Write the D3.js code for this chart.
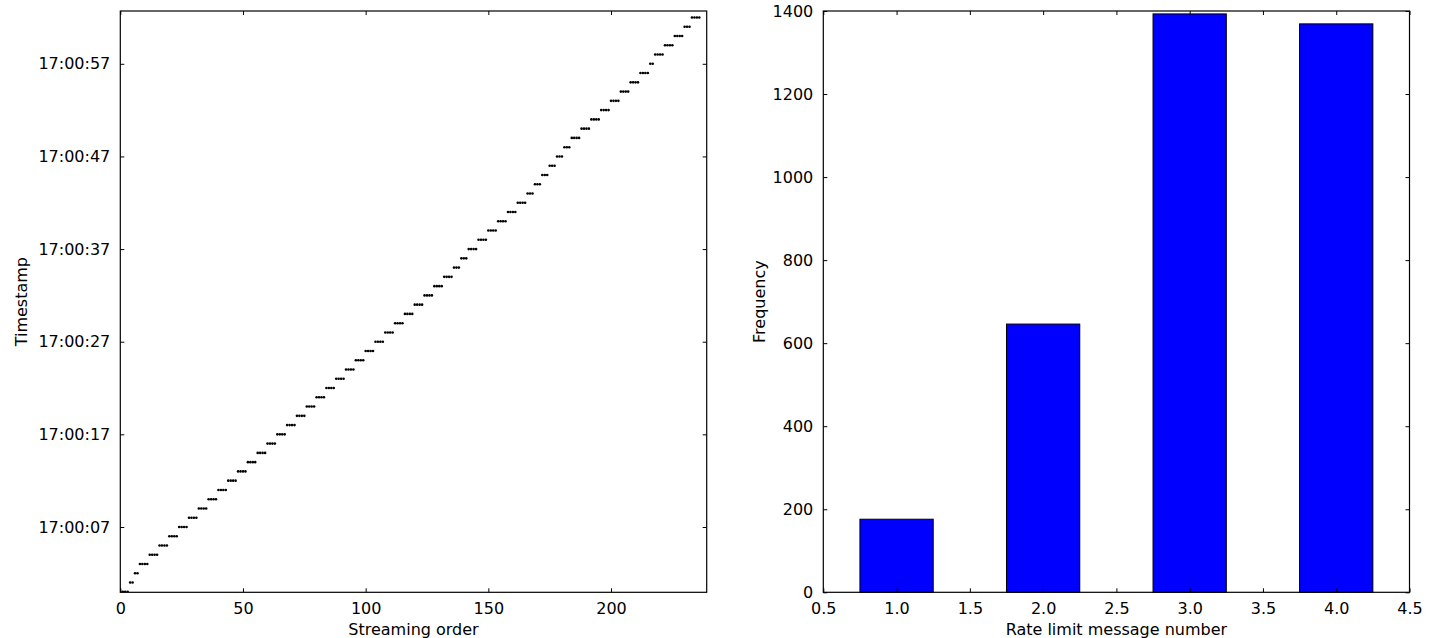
<!DOCTYPE html>
<html>
<head>
<meta charset="utf-8">
<script src="https://cdn.jsdelivr.net/npm/d3@7"></script>
<style>
  html, body { margin: 0; padding: 0; background: #fff; }
  svg { display: block; }
  text { font-family: "DejaVu Sans", sans-serif; fill: #000; }
</style>
</head>
<body>
<svg id="chart" width="1438" height="638"></svg>
<script>
// ---------- Data ----------
// Left panel: one entry per second of arrival time, and how many messages arrived in it
const secondLabels = [
  "17:00:00","17:00:01","17:00:02","17:00:03","17:00:04","17:00:05","17:00:06","17:00:07","17:00:08","17:00:09",
  "17:00:10","17:00:11","17:00:12","17:00:13","17:00:14","17:00:15","17:00:16","17:00:17","17:00:18","17:00:19",
  "17:00:20","17:00:21","17:00:22","17:00:23","17:00:24","17:00:25","17:00:26","17:00:27","17:00:28","17:00:29",
  "17:00:30","17:00:31","17:00:32","17:00:33","17:00:34","17:00:35","17:00:36","17:00:37","17:00:38","17:00:39",
  "17:00:40","17:00:41","17:00:42","17:00:43","17:00:44","17:00:45","17:00:46","17:00:47","17:00:48","17:00:49",
  "17:00:50","17:00:51","17:00:52","17:00:53","17:00:54","17:00:55","17:00:56","17:00:57","17:00:58","17:00:59",
  "17:01:00","17:01:01","17:01:02"
];
const messagesPerSecond = [
  4,2,2,4,4,4,4,4,4,4,
  4,4,4,4,4,4,4,4,4,4,
  4,4,4,4,4,4,4,4,4,4,
  4,4,4,4,4,3,3,4,4,4,
  4,4,4,3,3,3,3,3,3,4,
  4,4,4,4,4,4,4,2,4,4,
  4,3,4
];
const timeTickLabels = ["17:00:07","17:00:17","17:00:27","17:00:37","17:00:47","17:00:57"];
const orderTicks = [0, 50, 100, 150, 200];
const orderDomain = [0, 239];
const timeDomain = ["16:59:59.950", "17:01:02.700"];

// Right panel: histogram of rate limit message number
const messageNumbers = [1, 2, 3, 4];
const frequencies = [176, 646, 1393, 1369];
const barWidth = 0.5;
const numberTicks = [0.5, 1.0, 1.5, 2.0, 2.5, 3.0, 3.5, 4.0, 4.5];
const freqTicks = [0, 200, 400, 600, 800, 1000, 1200, 1400];

// ---------- Layout ----------
const svg = d3.select("#chart");
const topY = 11, bottomY = 592.3;
const L = { x0: 120.3, x1: 706.7 };
const R = { x0: 823.3, x1: 1409.5 };
const fontSize = 16;
const tickLen = 4;

const parseT = d3.timeParse("%H:%M:%S");
const parseTms = d3.timeParse("%H:%M:%S.%L");

// Build points: streaming order index vs timestamp
const points = [];
secondLabels.forEach((lab, i) => {
  for (let k = 0; k < messagesPerSecond[i]; k++) {
    points.push({ order: points.length, t: parseT(lab) });
  }
});

// ---------- Left panel ----------
const xL = d3.scaleLinear().domain(orderDomain).range([L.x0, L.x1]);
const yL = d3.scaleTime().domain(timeDomain.map(parseTms)).range([bottomY, topY]);

const gL = svg.append("g");
gL.append("defs").append("clipPath").attr("id", "clipL")
  .append("rect").attr("x", L.x0).attr("y", topY).attr("width", L.x1 - L.x0).attr("height", bottomY - topY);

gL.append("g").attr("clip-path", "url(#clipL)")
  .selectAll("circle").data(points).enter().append("circle")
  .attr("cx", d => xL(d.order))
  .attr("cy", d => yL(d.t))
  .attr("r", 1.3)
  .attr("fill", "#000");

function drawFrame(g, x0, x1) {
  g.append("rect").attr("x", x0).attr("y", topY).attr("width", x1 - x0).attr("height", bottomY - topY)
    .attr("fill", "none").attr("stroke", "#000").attr("stroke-width", 1.2);
}

// x ticks (bottom + top, inward)
gL.append("g").attr("transform", `translate(0,${bottomY})`)
  .call(d3.axisBottom(xL).tickValues(orderTicks).tickSize(-tickLen).tickPadding(10).tickFormat(d3.format("d")));
gL.append("g").attr("transform", `translate(0,${topY})`)
  .call(d3.axisTop(xL).tickValues(orderTicks).tickSize(-tickLen).tickFormat(""));

const yTickDates = timeTickLabels.map(parseT);
gL.append("g").attr("transform", `translate(${L.x0},0)`)
  .call(d3.axisLeft(yL).tickValues(yTickDates).tickSize(-tickLen).tickPadding(10)
    .tickFormat((d, i) => timeTickLabels[i]));
gL.append("g").attr("transform", `translate(${L.x1},0)`)
  .call(d3.axisRight(yL).tickValues(yTickDates).tickSize(-tickLen).tickFormat(""));

drawFrame(gL, L.x0, L.x1);

gL.append("text").attr("x", (L.x0 + L.x1) / 2).attr("y", 635)
  .attr("text-anchor", "middle").attr("font-size", fontSize).text("Streaming order");
gL.append("text").attr("transform", `translate(27,${(topY + bottomY) / 2}) rotate(-90)`)
  .attr("text-anchor", "middle").attr("font-size", fontSize).text("Timestamp");

// ---------- Right panel ----------
const xR = d3.scaleLinear().domain([0.5, 4.5]).range([R.x0, R.x1]);
const yR = d3.scaleLinear().domain([0, 1400]).range([bottomY, topY]);
const gR = svg.append("g");

gR.selectAll("rect.bar").data(messageNumbers).enter().append("rect")
  .attr("class", "bar")
  .attr("x", d => xR(d - barWidth / 2))
  .attr("width", d => xR(d + barWidth / 2) - xR(d - barWidth / 2))
  .attr("y", (d, i) => yR(frequencies[i]))
  .attr("height", (d, i) => yR(0) - yR(frequencies[i]))
  .attr("fill", "#0000ff").attr("stroke", "#000").attr("stroke-width", 1);

gR.append("g").attr("transform", `translate(0,${bottomY})`)
  .call(d3.axisBottom(xR).tickValues(numberTicks).tickSize(-tickLen).tickPadding(10).tickFormat(d3.format(".1f")));
gR.append("g").attr("transform", `translate(0,${topY})`)
  .call(d3.axisTop(xR).tickValues(numberTicks).tickSize(-tickLen).tickFormat(""));
gR.append("g").attr("transform", `translate(${R.x0},0)`)
  .call(d3.axisLeft(yR).tickValues(freqTicks).tickSize(-tickLen).tickPadding(10).tickFormat(d3.format("d")));
gR.append("g").attr("transform", `translate(${R.x1},0)`)
  .call(d3.axisRight(yR).tickValues(freqTicks).tickSize(-tickLen).tickFormat(""));

drawFrame(gR, R.x0, R.x1);

gR.append("text").attr("x", (R.x0 + R.x1) / 2).attr("y", 635)
  .attr("text-anchor", "middle").attr("font-size", fontSize).text("Rate limit message number");
gR.append("text").attr("transform", `translate(765,${(topY + bottomY) / 2}) rotate(-90)`)
  .attr("text-anchor", "middle").attr("font-size", fontSize).text("Frequency");

// ---------- Axis styling ----------
svg.selectAll(".domain").remove();
svg.selectAll(".tick line").attr("stroke", "#000").attr("stroke-width", 1);
svg.selectAll(".tick text").attr("font-size", fontSize).attr("font-family", "DejaVu Sans, sans-serif").attr("fill", "#000");
</script>
</body>
</html>
